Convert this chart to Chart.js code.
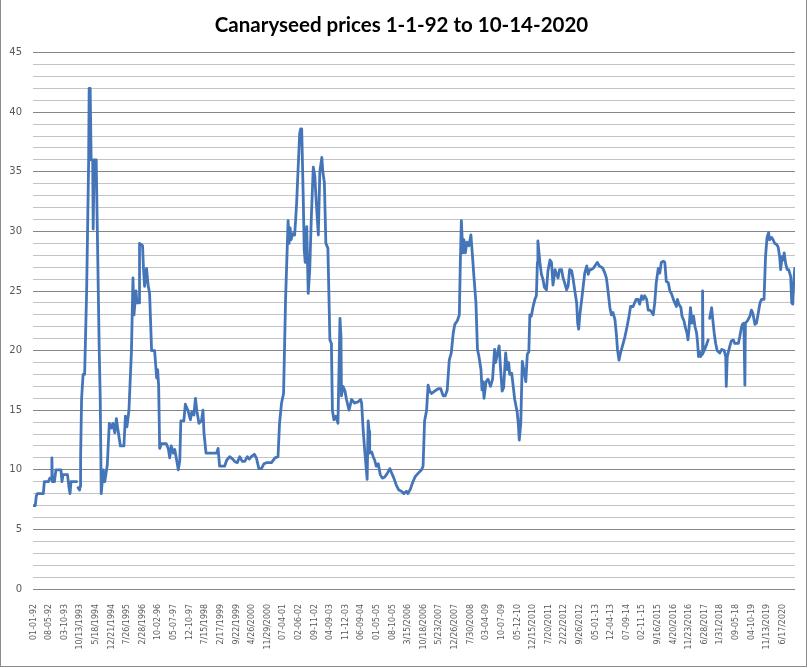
<!DOCTYPE html>
<html>
<head>
<meta charset="utf-8">
<title>Canaryseed prices</title>
<script src="https://cdn.jsdelivr.net/npm/chart.js@4.4.1/dist/chart.umd.min.js"></script>
<style>
  html, body { margin: 0; padding: 0; background: #fff; }
  #wrap { position: relative; width: 810px; height: 668px; overflow: hidden; }
  #frame { position: absolute; left: 0; top: -2px; width: 807px; height: 669px; border: 1px solid #8c8c8c; box-sizing: border-box; pointer-events: none; }
  canvas { position: absolute; left: 0; top: 0; }
</style>
</head>
<body>
<div id="wrap">
  <canvas id="chart" width="810" height="668"></canvas>
  <div id="frame"></div>
</div>
<script>
// one category label every 31 weekly rows
const tickEvery = 31;
const tickLabels = ['01-01-92','08-05-92','03-10-93','10/13/1993','5/18/1994','12/21/1994','7/26/1995','2/28/1996',
  '10-02-96','05-07-97','12-10-97','7/15/1998','2/17/1999','9/22/1999','4/26/2000','11/29/2000','07-04-01',
  '02-06-02','09-11-02','04-09-03','11-12-03','06-09-04','01-05-05','08-10-05','3/15/2006','10/18/2006',
  '5/23/2007','12/26/2007','7/30/2008','03-04-09','10-07-09','05-12-10','12/15/2010','7/20/2011','2/22/2012',
  '9/26/2012','05-01-13','12-04-13','07-09-14','02-11-15','9/16/2015','4/20/2016','11/23/2016','6/28/2017',
  '1/31/2018','09-05-18','04-10-19','11/13/2019','6/17/2020'];

// week number (row) since 1-1-92 and price read at that row
const weeks = [0,4,6,8,20,22,30,33,36,37,38,42,45,55,57,59,68,71,73,75,86,87,89,92,93,94,96,99,102,106,110,111,113,
  115,118,119,121,125,131,133,135,139,142,147,151,155,158,162,165,168,173,180,183,186,190,195,198,200,204,206,210,
  211,217,219,221,225,228,231,235,241,245,247,249,251,255,264,268,271,274,278,281,284,288,291,293,299,302,307,312,
  315,319,322,325,329,334,337,339,343,364,367,370,380,384,390,396,400,405,410,415,420,425,429,433,439,443,448,453,
  458,463,473,480,486,489,493,497,501,506,508,510,512,515,519,521,523,525,529,531,533,536,538,540,543,546,549,552,
  556,559,562,566,569,573,575,578,581,585,589,592,594,597,601,605,609,611,612,615,619,622,627,632,638,645,650,652,
  655,658,663,665,667,668,672,675,678,681,685,689,693,698,703,708,711,716,721,726,731,736,741,744,749,753,758,764,
  771,774,777,781,784,787,791,797,804,809,814,818,822,826,830,834,837,842,846,848,850,853,855,858,861,865,869,872,
  875,879,882,885,889,891,893,895,899,903,908,912,916,918,922,925,928,931,934,938,941,944,946,950,953,956,961,963,
  965,968,971,974,978,981,984,986,989,992,996,999,1001,1002,1006,1009,1012,1015,1019,1022,1026,1029,1032,1036,1039,
  1042,1045,1049,1052,1055,1059,1062,1065,1069,1072,1075,1079,1081,1083,1085,1089,1092,1095,1099,1102,1105,1108,
  1112,1115,1120,1124,1128,1131,1135,1138,1141,1145,1148,1151,1155,1158,1160,1163,1166,1170,1175,1179,1183,1186,
  1191,1194,1197,1201,1204,1208,1211,1214,1218,1221,1224,1227,1231,1234,1237,1241,1244,1247,1251,1254,1257,1261,
  1264,1267,1271,1274,1277,1279,1282,1286,1288,1292,1295,1298,1300,1302,1305,1308,1311,1314,1317,1319,1321,1323,
  1325,1328,1329,1330,1333,1336,1340,1341,1343,1347,1349,1352,1355,1358,1363,1367,1372,1375,1376,1378,1382,1386,
  1390,1393,1400,1403,1406,1408,1411,1413,1414,1418,1423,1426,1429,1433,1436,1439,1443,1446,1451,1454,1457,1460,
  1462,1466,1469,1472,1476,1479,1482,1484,1487,1489,1491,1494,1497,1500,1504,1506,1508,1510,1512];
const prices = [7.0,7.0,7.8,8.0,8.0,9.0,9.0,9.3,9.2,11.0,9.0,9.0,10.0,10.0,9.0,9.6,9.6,8.5,8.0,9.0,9.0,null,8.5,8.3,8.6,
  11.0,16.0,18.0,18.0,25.0,36.0,42.0,42.0,36.0,36.0,30.2,36.0,36.0,20.0,16.0,8.0,10.0,9.0,10.4,13.9,13.5,13.9,13.1,
  14.3,13.4,12.0,12.0,14.5,13.6,15.0,20.0,26.1,23.0,25.0,24.0,24.0,29.0,28.8,26.8,25.4,26.9,25.5,24.8,20.0,20.0,17.7,
  18.4,17.0,11.8,12.2,12.2,11.8,11.0,12.0,11.4,11.7,11.0,10.0,10.8,14.1,14.1,15.5,15.0,14.2,14.9,14.6,16.0,14.9,13.9,
  14.1,15.0,13.1,11.4,11.4,11.8,10.3,10.3,10.8,11.1,10.9,10.7,10.6,11.1,10.7,10.7,11.1,10.9,11.1,11.3,11.0,10.1,10.1,
  10.5,10.6,10.6,11.0,11.1,13.9,15.6,16.4,24.3,30.9,29.0,30.3,29.3,29.8,29.7,31.0,32.4,34.4,38.2,38.6,38.6,33.0,28.5,
  27.4,30.4,24.8,26.8,31.0,35.4,34.7,32.4,29.7,35.0,36.2,35.0,34.1,29.0,28.6,20.9,20.6,15.0,14.2,14.5,13.9,22.7,21.2,
  16.2,17.0,16.6,15.9,15.0,15.9,15.6,15.7,15.9,15.6,13.4,11.7,9.2,14.1,13.2,11.4,11.5,11.1,10.8,10.3,10.5,9.6,9.3,
  9.4,9.7,10.1,9.8,9.3,8.7,8.3,8.2,8.0,8.2,8.0,8.4,8.9,9.4,9.7,10.0,10.3,14.1,15.0,17.1,16.6,16.4,16.6,16.8,16.8,
  16.2,16.2,16.7,19.2,19.8,21.5,22.2,22.5,23.0,27.4,30.9,28.2,29.3,28.2,29.1,28.8,29.7,28.0,26.2,24.0,20.1,19.5,
  18.4,16.7,17.4,16.0,17.4,17.6,17.0,17.6,20.1,19.0,19.8,20.4,18.4,16.6,16.9,19.8,18.4,19.0,18.0,18.1,17.0,15.9,
  14.8,13.9,12.5,13.9,19.1,18.4,17.4,19.7,19.9,23.0,22.9,23.6,24.3,24.6,27.4,29.2,27.4,26.4,26.0,25.3,25.1,26.7,
  27.6,27.4,25.5,26.8,26.4,26.1,26.8,26.8,26.1,25.7,25.1,25.4,26.8,26.7,26.0,25.1,24.0,22.3,21.8,22.9,24.3,25.4,
  26.5,27.1,26.4,26.8,26.8,26.9,27.1,27.4,27.1,27.0,26.9,26.5,26.1,25.1,23.6,23.0,23.2,22.6,21.3,20.1,19.2,19.8,
  20.4,21.2,22.0,22.9,23.7,23.7,24.0,24.3,24.3,23.9,24.6,24.3,24.6,24.3,23.4,23.4,23.3,23.0,24.0,25.7,26.9,26.5,
  27.4,27.5,27.4,25.8,25.7,25.0,24.8,24.3,24.0,23.7,24.3,23.9,23.6,22.9,22.5,21.9,21.5,20.9,21.8,23.6,22.3,22.9,
  22.0,21.5,20.7,19.5,19.9,19.5,19.7,25.0,19.8,20.1,20.4,20.9,null,22.7,23.6,22.7,21.5,20.6,20.0,19.8,20.1,20.0,
  19.5,17.0,19.5,20.2,20.8,20.9,20.6,20.6,21.2,21.9,22.2,22.3,17.1,22.3,22.5,22.9,23.4,23.1,22.2,22.3,23.0,24.0,
  24.3,24.3,27.9,29.5,29.9,29.3,29.5,29.3,29.0,28.9,28.7,27.9,26.8,27.9,27.6,28.2,27.3,26.8,26.8,26.2,24.0,23.9,
  25.7,26.9];

const ctx = document.getElementById('chart').getContext('2d');
const chart = new Chart(ctx, {
  type: 'line',
  data: {
    datasets: [{
      label: 'Canaryseed',
      data: weeks.map((w, k) => ({ x: w, y: prices[k] })),
      borderColor: '#4575b9',
      borderWidth: 2.8,
      pointRadius: 0,
      tension: 0,
      borderJoinStyle: 'round',
      borderCapStyle: 'round',
      spanGaps: false
    }]
  },
  options: {
    responsive: false,
    animation: false,
    layout: { padding: { left: 8, right: 15, top: 0, bottom: 0 } },
    plugins: {
      legend: { display: false },
      tooltip: { enabled: false },
      title: {
        display: true,
        text: 'Canaryseed prices 1-1-92 to 10-14-2020',
        color: '#000',
        font: { family: 'Lato', size: 20.5, weight: 'bold', lineHeight: 1.2 },
        padding: { top: 13, bottom: 15 }
      }
    },
    scales: {
      x: {
        type: 'linear',
        min: -0.5,
        max: 1512.5,
        grid: { display: false },
        border: { display: false },
        afterBuildTicks: s => { s.ticks = tickLabels.map((t, k) => ({ value: k * tickEvery })); },
        afterFit: s => { s.height = 79; },
        ticks: {
          autoSkip: false,
          minRotation: 90,
          maxRotation: 90,
          padding: 7,
          color: '#595959',
          font: { family: "'DejaVu Sans Condensed', 'DejaVu Sans'", size: 8.8 },
          callback: v => tickLabels[Math.round(v / tickEvery)]
        }
      },
      y: {
        min: 0,
        max: 45,
        afterFit: s => { s.width = 25; },
        border: { display: false },
        grid: {
          drawTicks: false,
          lineWidth: 1,
          color: c => (c.tick && c.tick.value % 5 === 0) ? '#868686' : '#c4c4c4'
        },
        ticks: {
          stepSize: 1,
          autoSkip: false,
          padding: 11,
          color: '#595959',
          font: { family: "'DejaVu Sans'", size: 10 },
          callback: v => v % 5 === 0 ? v : ''
        }
      }
    }
  }
});
</script>
</body>
</html>
